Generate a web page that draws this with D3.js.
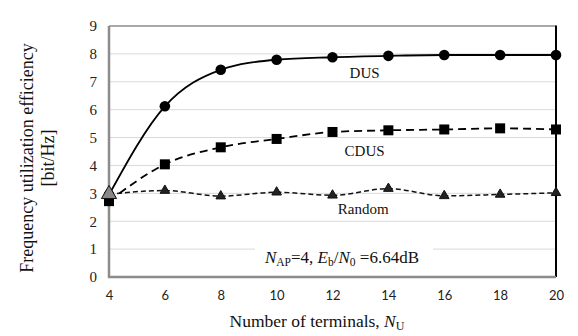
<!DOCTYPE html>
<html><head><meta charset="utf-8">
<script src="https://cdn.jsdelivr.net/npm/d3@7"></script>
<style>body{margin:0;background:#fff}svg{display:block}.serif{font-family:"Liberation Serif","Times New Roman",Times,"DejaVu Serif",serif}</style>
</head><body>
<script>
const xValues = [4, 6, 8, 10, 12, 14, 16, 18, 20];
const dusValues = [2.95, 6.12, 7.43, 7.79, 7.88, 7.93, 7.96, 7.96, 7.96];
const cdusValues = [2.72, 4.04, 4.65, 4.95, 5.2, 5.26, 5.29, 5.33, 5.29];
const randomValues = [2.97, 3.1, 2.9, 3.04, 2.93, 3.17, 2.91, 2.96, 3.02];
const yTicks = [0, 1, 2, 3, 4, 5, 6, 7, 8, 9];
const seriesNames = ["DUS", "CDUS", "Random"];

const W = 578, H = 336;
const svg = d3.select("body").append("svg").attr("width", W).attr("height", H);
const x = d3.scaleLinear().domain([4, 20]).range([109, 556]);
const y = d3.scaleLinear().domain([0, 9]).range([277, 26]);
const sans = "Lato,'Open Sans',sans-serif";

// gridlines
const g = svg.append("g");
yTicks.filter(t => t > 0 && t < 9).forEach(t => {
  const segs = t === 1 ? [[x(4), 255], [433, x(20)]] : [[x(4), x(20)]];
  segs.forEach(s => g.append("line").attr("x1", s[0]).attr("x2", s[1]).attr("y1", y(t)).attr("y2", y(t)).attr("stroke", "#d9d9d9").attr("stroke-width", 1));
});
// frame
svg.append("line").attr("x1", x(4)).attr("x2", x(20)).attr("y1", y(9)).attr("y2", y(9)).attr("stroke", "#555").attr("stroke-width", 1.2);
svg.append("line").attr("x1", x(20)).attr("x2", x(20)).attr("y1", y(9) - 0.6).attr("y2", y(0)).attr("stroke", "#000").attr("stroke-width", 2);
svg.append("line").attr("x1", x(4)).attr("x2", x(4)).attr("y1", y(9)).attr("y2", y(0) + 1).attr("stroke", "#8c8c8c").attr("stroke-width", 2.5);
svg.append("line").attr("x1", x(4) - 1).attr("x2", x(20)).attr("y1", y(0)).attr("y2", y(0)).attr("stroke", "#8c8c8c").attr("stroke-width", 2.5);

// y ticks
const yAxis = d3.axisLeft(y).tickValues(yTicks).tickSize(0).tickPadding(12).tickFormat(d3.format("d"));
const ya = svg.append("g").attr("transform", `translate(${x(4)},0)`).call(yAxis);
ya.attr("font-family", null);
ya.select(".domain").remove();
ya.selectAll("text").attr("class", "serif").attr("font-size", 15).attr("fill", "#222");

// x ticks
const xAxis = d3.axisBottom(x).tickValues(xValues).tickSize(0).tickPadding(14).tickFormat(d3.format("d"));
const xa = svg.append("g").attr("transform", `translate(0,${y(0)})`).call(xAxis);
xa.select(".domain").remove();
xa.selectAll("text").attr("font-family", sans).attr("font-size", 13).attr("fill", "#222");

// lines
const line = d3.line().x((d, i) => x(xValues[i])).y(d => y(d)).curve(d3.curveMonotoneX);
svg.append("path").attr("d", line(randomValues)).attr("fill", "none").attr("stroke", "#111").attr("stroke-width", 1.5).attr("stroke-dasharray", "5,3");
svg.append("path").attr("d", line(cdusValues)).attr("fill", "none").attr("stroke", "#000").attr("stroke-width", 1.8).attr("stroke-dasharray", "8,5");
svg.append("path").attr("d", line(dusValues)).attr("fill", "none").attr("stroke", "#000").attr("stroke-width", 1.8);

// markers
svg.append("g").selectAll("circle").data(dusValues).join("circle")
  .attr("cx", (d, i) => x(xValues[i])).attr("cy", d => y(d)).attr("r", 5.3).attr("fill", "#000");
svg.append("g").selectAll("rect").data(cdusValues).join("rect")
  .attr("x", (d, i) => x(xValues[i]) - 5).attr("y", d => y(d) - 5).attr("width", 10).attr("height", 10).attr("fill", "#000");
const tri = d3.symbol().type(d3.symbolTriangle).size(40);
svg.append("g").selectAll("path").data(randomValues).join("path")
  .attr("d", (d, i) => i === 0 ? d3.symbol().type(d3.symbolTriangle).size(100)() : tri())
  .attr("transform", (d, i) => `translate(${x(xValues[i])},${y(d)})`)
  .attr("fill", (d, i) => i === 0 ? "#888" : "#222").attr("stroke", "#111").attr("stroke-width", 1);

// series labels
const labels = [[seriesNames[0], 13.15, 73], [seriesNames[1], 13.15, 151], [seriesNames[2], 13.1, 209]];
svg.append("g").selectAll("text").data(labels).join("text")
  .attr("class", "serif")
  .attr("x", d => x(d[1])).attr("y", d => d[2]).attr("dy", "0.35em")
  .attr("text-anchor", "middle").attr("font-size", 15).attr("fill", "#111")
  .text(d => d[0]);

// annotation
const ann = svg.append("text").attr("class", "serif").attr("x", 342).attr("y", 263).attr("text-anchor", "middle")
  .attr("font-size", 17).attr("fill", "#111");
ann.append("tspan").attr("font-style", "italic").text("N");
ann.append("tspan").attr("font-size", 11.5).attr("dy", 3).text("AP");
ann.append("tspan").attr("dy", -3).text("=4, ");
ann.append("tspan").attr("font-style", "italic").text("E");
ann.append("tspan").attr("font-size", 11.5).attr("dy", 3).text("b");
ann.append("tspan").attr("dy", -3).text("/");
ann.append("tspan").attr("font-style", "italic").text("N");
ann.append("tspan").attr("font-size", 11.5).attr("dy", 3).text("0");
ann.append("tspan").attr("dy", -3).text(" =6.64dB");

// x title
const xt = svg.append("text").attr("class", "serif").attr("x", 317).attr("y", 327).attr("text-anchor", "middle")
  .attr("font-size", 17.5).attr("fill", "#111");
xt.append("tspan").text("Number of terminals, ");
xt.append("tspan").attr("font-style", "italic").text("N");
xt.append("tspan").attr("font-size", 12).attr("dy", 3).text("U");

// y title
const yt = svg.append("text").attr("class", "serif").attr("transform", "translate(33,158) rotate(-90)").attr("text-anchor", "middle")
  .attr("font-size", 18).attr("fill", "#111");
yt.append("tspan").attr("x", 0).attr("dy", 0).text("Frequency utilization efficiency");
yt.append("tspan").attr("x", 0).attr("dy", 21).text("[bit/Hz]");
</script>
</body></html>
